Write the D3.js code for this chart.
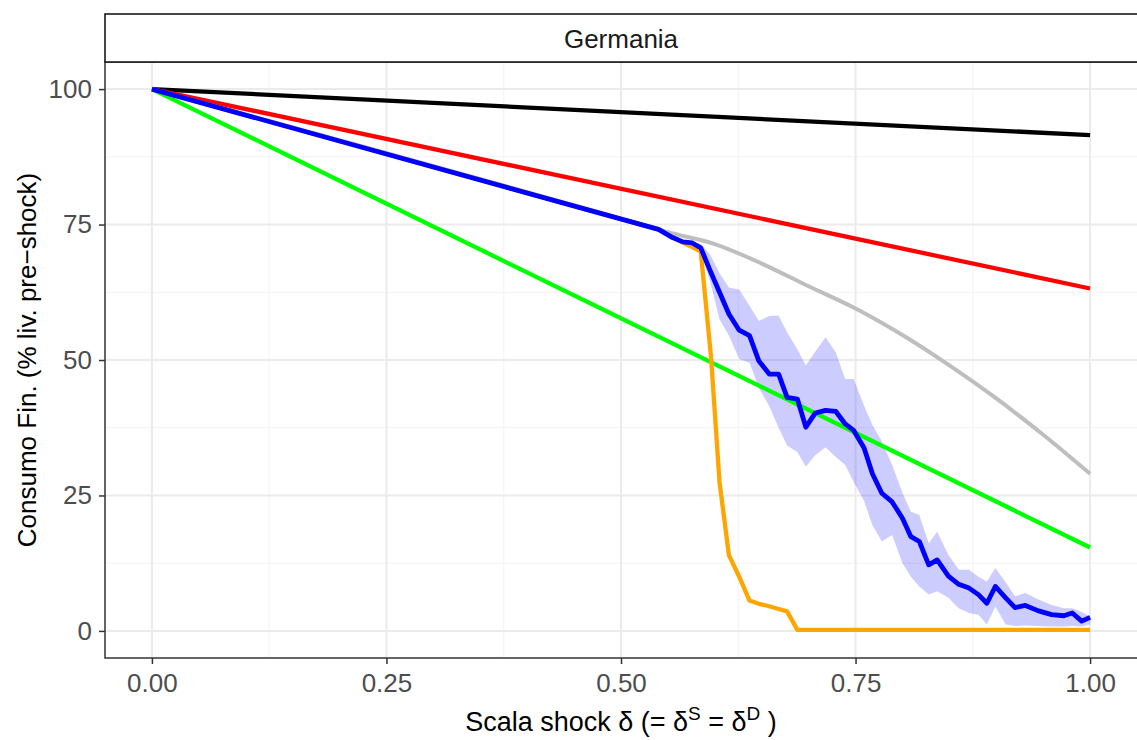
<!DOCTYPE html>
<html>
<head>
<meta charset="utf-8">
<script src="https://cdn.jsdelivr.net/npm/d3@7"></script>
<style>
  body { margin: 0; background: #fff; }
  svg { display: block; font-family: "Liberation Sans", Arial, Helvetica, sans-serif; }
</style>
</head>
<body>
<div id="chart"></div>
<script>
// straight lines (start / end)
const lineX = [0, 1];
const blackY = [100, 91.5];
const redY = [100, 63.2];
const greenY = [100, 15.4];

// grey curve
const greyX = [0, 0.54, 0.55, 0.60, 0.65, 0.70, 0.75, 0.80, 0.85, 0.90, 0.95, 1.00];
const greyY = [100, 74.1, 73.6, 71.4, 67.8, 63.6, 59.5, 54.6, 49.0, 42.9, 36.2, 29.0];

// orange
const orangeX = [0, 0.54, 0.555, 0.574, 0.585, 0.596, 0.605, 0.615, 0.626, 0.637, 0.647, 0.657, 0.667, 0.677, 0.688, 1.00];
const orangeY = [100, 74.1, 72.6, 71.0, 70.0, 50.5, 27.5, 14.0, 10.0, 5.6, 5.0, 4.6, 4.1, 3.6, 0.2, 0.2];

// blue mean with band
const blueX = [0, 0.54, 0.555, 0.566, 0.576, 0.585, 0.595, 0.605, 0.615, 0.626, 0.637, 0.647, 0.658, 0.668, 0.677,
  0.688, 0.697, 0.707, 0.718, 0.729, 0.739, 0.748, 0.759, 0.768, 0.778, 0.789, 0.800, 0.809, 0.818, 0.828,
  0.837, 0.849, 0.860, 0.871, 0.881, 0.890, 0.899, 0.910, 0.920, 0.931, 0.945, 0.959, 0.972, 0.981, 0.991, 1.000];
const blueY = [100, 74.1, 72.6, 71.8, 71.6, 70.7, 66.5, 62.5, 58.5, 55.5, 54.5, 49.8, 47.4, 47.4, 43.1,
  42.8, 37.6, 40.2, 40.7, 40.5, 38.2, 37.0, 33.8, 29.0, 25.4, 23.8, 20.8, 17.4, 16.5, 12.2,
  13.1, 10.1, 8.6, 7.9, 6.7, 5.1, 8.2, 6.1, 4.3, 4.7, 3.7, 3.0, 2.8, 3.3, 1.8, 2.5];
const blueLo = [100, 74.1, 72.6, 71.8, 71.4, 70.0, 64.5, 57.5, 54.5, 50.2, 49.5, 44.8, 41.5, 37.5, 34.2,
  33.0, 30.3, 32.4, 33.9, 32.1, 30.6, 27.5, 24.0, 19.5, 16.5, 17.7, 12.5, 10.0, 8.2, 6.7,
  7.3, 6.1, 4.2, 3.3, 3.0, 1.2, 4.5, 1.2, 0.9, 1.0, 0.9, 0.8, 0.8, 0.9, 0.8, 1.2];
const blueHi = [100, 74.1, 72.6, 71.8, 71.8, 71.4, 69.5, 66.0, 63.4, 63.0, 60.0, 57.2, 58.1, 58.2, 55.1,
  52.0, 49.0, 51.5, 54.2, 51.4, 46.5, 46.5, 41.6, 38.0, 35.0, 30.6, 25.5, 22.0, 21.4, 16.2,
  18.3, 14.0, 11.3, 11.3, 10.0, 9.1, 11.6, 9.0, 6.4, 7.0, 5.8, 4.8, 4.2, 4.2, 3.5, 2.7];

const xTicks = [0, 0.25, 0.5, 0.75, 1];
const yTicks = [0, 25, 50, 75, 100];
const facetLabel = 'Germania';

const width = 1137, height = 740;
const margin = {left: 105, right: 0, top: 62, bottom: 82};

const svg = d3.select('#chart').append('svg')
  .attr('width', width).attr('height', height);

const x = d3.scaleLinear().domain([-0.05, 1.05]).range([margin.left, 1137]);
const y = d3.scaleLinear().domain([-5, 105]).range([height - margin.bottom, margin.top]);

/// gridlines
const grid = svg.append('g');
const xMinor = [0.125, 0.375, 0.625, 0.875];
const yMinor = [12.5, 37.5, 62.5, 87.5];
grid.selectAll('.xmin').data(xMinor).enter().append('line')
  .attr('x1', d => x(d)).attr('x2', d => x(d))
  .attr('y1', y.range()[0]).attr('y2', y.range()[1])
  .attr('stroke', '#f2f2f2').attr('stroke-width', 1);
grid.selectAll('.ymin').data(yMinor).enter().append('line')
  .attr('y1', d => y(d)).attr('y2', d => y(d))
  .attr('x1', x.range()[0]).attr('x2', x.range()[1])
  .attr('stroke', '#f2f2f2').attr('stroke-width', 1);
grid.selectAll('.xmaj').data(xTicks).enter().append('line')
  .attr('x1', d => x(d)).attr('x2', d => x(d))
  .attr('y1', y.range()[0]).attr('y2', y.range()[1])
  .attr('stroke', '#ebebeb').attr('stroke-width', 2);
grid.selectAll('.ymaj').data(yTicks).enter().append('line')
  .attr('y1', d => y(d)).attr('y2', d => y(d))
  .attr('x1', x.range()[0]).attr('x2', x.range()[1])
  .attr('stroke', '#ebebeb').attr('stroke-width', 2);

/// band
const area = d3.area()
  .x((d, i) => x(blueX[i]))
  .y0((d, i) => y(blueLo[i]))
  .y1((d, i) => y(blueHi[i]));
svg.append('path').datum(blueX).attr('d', area)
  .attr('fill', '#0000ff').attr('fill-opacity', 0.2);

/// lines
function drawLine(xs, ys, color, w, curve) {
  const line = d3.line().x((d, i) => x(xs[i])).y((d, i) => y(ys[i]));
  if (curve) line.curve(curve);
  svg.append('path').datum(xs).attr('d', line)
    .attr('fill', 'none').attr('stroke', color).attr('stroke-width', w)
    .attr('stroke-linejoin', 'round');
}
drawLine(lineX, blackY, '#000000', 4.3);
drawLine(lineX, redY, '#ff0000', 4.3);
drawLine(lineX, greenY, '#00ff00', 4.3);
drawLine(greyX, greyY, '#bebebe', 4, d3.curveMonotoneX);
drawLine(orangeX, orangeY, '#ffa500', 4.3);
drawLine(blueX, blueY, '#0000ff', 4.8);

/// panel border (right edge sits just outside the picture)
svg.append('rect')
  .attr('x', margin.left).attr('y', margin.top)
  .attr('width', 1140 - margin.left).attr('height', y.range()[0] - margin.top)
  .attr('fill', 'none').attr('stroke', '#333333').attr('stroke-width', 1.5);

/// strip
svg.append('rect')
  .attr('x', margin.left).attr('y', 14)
  .attr('width', 1140 - margin.left).attr('height', margin.top - 14)
  .attr('fill', '#ffffff').attr('stroke', '#1a1a1a').attr('stroke-width', 1.6);
svg.append('text')
  .attr('x', (margin.left + 1137) / 2).attr('y', 48)
  .attr('text-anchor', 'middle').attr('font-size', 26).attr('fill', '#1a1a1a')
  .text(facetLabel);

/// axes
const xAxis = svg.append('g').attr('transform', `translate(0,${y.range()[0]})`)
  .call(d3.axisBottom(x).tickValues(xTicks).tickFormat(d3.format('.2f')).tickSize(6).tickPadding(10));
const yAxis = svg.append('g').attr('transform', `translate(${margin.left},0)`)
  .call(d3.axisLeft(y).tickValues(yTicks).tickSize(6).tickPadding(7));
[xAxis, yAxis].forEach(a => {
  a.select('.domain').remove();
  a.selectAll('line').attr('stroke', '#333333').attr('stroke-width', 1.5);
  a.selectAll('text').attr('fill', '#4d4d4d').attr('font-size', 26)
    .attr('font-family', '"Liberation Sans", Arial, sans-serif');
});

/// titles
const xt = svg.append('text')
  .attr('x', (margin.left + 1137) / 2).attr('y', 731)
  .attr('text-anchor', 'middle').attr('font-size', 27).attr('fill', '#000');
xt.append('tspan').text('Scala shock δ (= δ');
xt.append('tspan').attr('dy', -11).attr('font-size', 19).text('S');
xt.append('tspan').attr('dy', 11).text(' = δ');
xt.append('tspan').attr('dy', -11).attr('font-size', 19).text('D');
xt.append('tspan').attr('dy', 11).text(' )');

svg.append('text')
  .attr('transform', `translate(36,${(margin.top + y.range()[0]) / 2}) rotate(-90)`)
  .attr('text-anchor', 'middle').attr('font-size', 26).attr('fill', '#000')
  .text('Consumo Fin. (% liv. pre\u2212shock)');
</script>
</body>
</html>
